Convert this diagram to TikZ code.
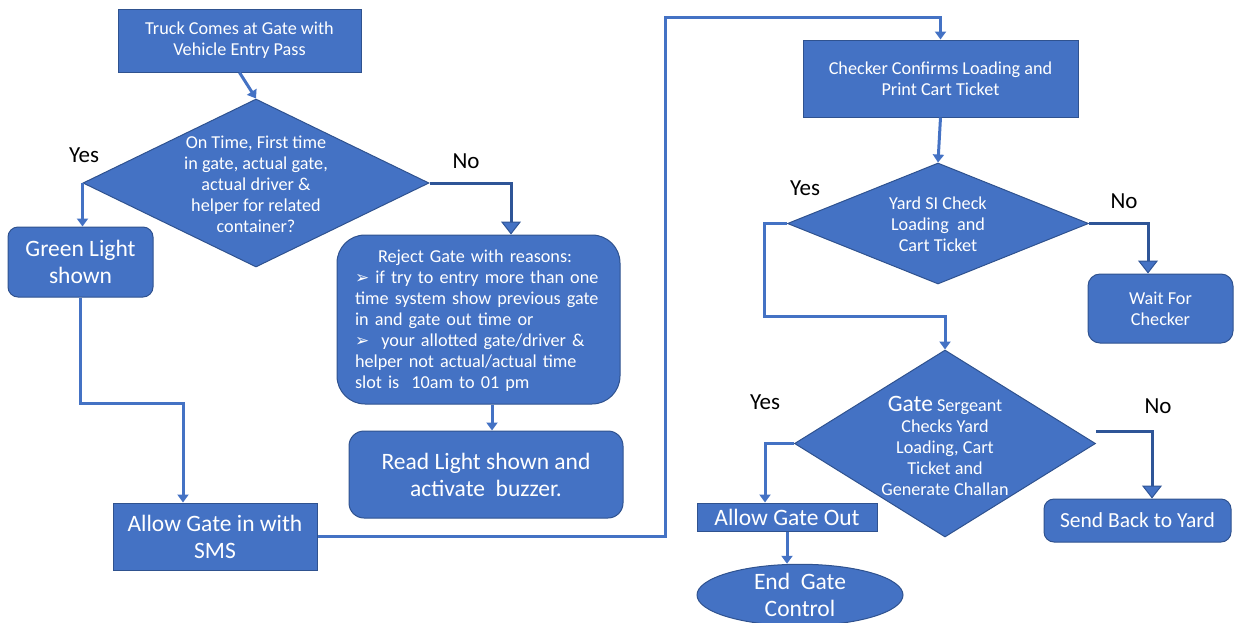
\documentclass[tikz,border=0pt]{standalone}
\usepackage{fontspec}
\setmainfont{Carlito}
\newfontfamily\dejavu{DejaVu Sans}
\usetikzlibrary{shapes.geometric,arrows.meta,calc}
\definecolor{fillblue}{HTML}{4472C4}
\definecolor{edgeblue}{HTML}{2F528F}
\definecolor{darkline}{HTML}{2F5597}
\newcommand{\smallfs}{\fontsize{18.2}{21}\selectfont}
\newcommand{\bigfs}{\fontsize{23.5}{27}\selectfont}
\newcommand{\blt}{{\dejavu\fontsize{17}{17}\selectfont\char"27A2}}
\begin{document}
\begin{tikzpicture}[x=1pt,y=-1pt,
  shp/.style={draw=edgeblue, fill=fillblue, line width=1pt, text=white, align=center, inner sep=0pt},
  rbox/.style={shp, rectangle},
  rrbox/.style={shp, rectangle, rounded corners=#1},
  dia/.style={shp, diamond},
  txt/.style={text=white, align=center, inner sep=0pt},
  lbl/.style={text=black, inner sep=0pt, font=\fontsize{23}{26}\selectfont},
  conn/.style={draw=fillblue, line width=3pt, -{Triangle[width=11pt,length=8pt]}},
  noconn/.style={draw=darkline, line width=3pt, -{Triangle[width=20pt,length=13pt,fill=fillblue,line width=1pt]}},
  plain/.style={draw=fillblue, line width=3pt}
]
\useasboundingbox (0,0) rectangle (1245,622);

% left side
\node[rbox, minimum width=243pt, minimum height=63pt, font=\smallfs] (truck) at (239.5,40.5) {Truck Comes at Gate with\\Vehicle Entry Pass};
\node[dia, minimum width=346pt, minimum height=168pt] (d1) at (256,183) {};
\node[txt, font=\smallfs] (t1) at (256,184) {On Time, First time\\in gate, actual gate,\\actual driver \&\\helper for related\\container?};
\node[rrbox=10pt, minimum width=145pt, minimum height=70pt, font=\bigfs] (gl) at (80.5,262) {Green Light\\shown};
\node[rrbox=28pt, minimum width=283pt, minimum height=169pt] (rej) at (478.5,319.5) {};
\node[txt, font=\smallfs, align=left, text width=250pt] (rt) at (480,320.5) {\makebox[240pt][c]{Reject Gate with reasons:}\\
\blt\ if try to entry more than one\\
time system show previous gate\\
in and gate out time or\\
\blt\ \ your allotted gate/driver \&\\
helper not actual/actual time\\
slot is\ \ 10am to 01 pm};
\node[rrbox=15pt, minimum width=274pt, minimum height=87pt, font=\bigfs] (read) at (486,474.5) {Read Light shown and\\activate\ \ buzzer.};
\node[rbox, minimum width=204pt, minimum height=67pt, font=\bigfs] (ain) at (215,536.5) {Allow Gate in with\\SMS};

% right side
\node[rbox, minimum width=275pt, minimum height=77pt, font=\smallfs] (chk) at (940.5,78.5) {Checker Confirms Loading and\\Print Cart Ticket};
\node[dia, minimum width=301pt, minimum height=121pt] (d2) at (938,223.5) {};
\node[txt, font=\smallfs] (t2) at (938,224) {Yard SI Check\\Loading\ \ and\\Cart Ticket};
\node[rrbox=12pt, minimum width=145pt, minimum height=69pt, font=\smallfs] (wait) at (1160.5,308.5) {Wait For\\Checker};
\node[dia, minimum width=301pt, minimum height=187pt] (d3) at (945,443.5) {};
\node[txt, font=\smallfs] (t3) at (945,446) {{\fontsize{23.5}{21}\selectfont Gate} Sergeant\\Checks Yard\\Loading, Cart\\Ticket and\\Generate Challan};
\node[rbox, minimum width=180pt, minimum height=28pt, font=\bigfs] (aout) at (787,517) {Allow Gate Out};
\node[shp, ellipse, minimum width=206pt, minimum height=54pt, font=\bigfs] (endn) at (800,595) {End\ \ Gate\\Control};
\node[rrbox=10pt, minimum width=187pt, minimum height=43pt, font=\fontsize{21.5}{25}\selectfont] (sb) at (1137.5,520.5) {Send Back to Yard};

% labels
\node[lbl] (y1) at (84,155) {Yes};
\node[lbl] (n1) at (466,161) {No};
\node[lbl] (y2) at (805,188) {Yes};
\node[lbl] (n2) at (1124,201) {No};
\node[lbl] (y3) at (765,402) {Yes};
\node[lbl] (n3) at (1158,406) {No};

% helper coordinates
\coordinate (x511) at (511,0);
\coordinate (j1) at (183,403);
\coordinate (x492) at (492,0);
\coordinate (j2) at (665,17);
\coordinate (j3) at (764,316);
\coordinate (x1148) at (1148,0);
\coordinate (x765) at (765,0);
\coordinate (x1152) at (1152,0);

% connectors
\draw[conn] (truck.south) -- (d1.north);
\draw[conn] (d1.west) -- (d1.west |- gl.north);
\draw[noconn] (d1.east) -| (rej.north -| x511);
\draw[conn] (gl.south) |- (j1) -- (j1 |- ain.north);
\draw[conn] (rej.south -| x492) -- (read.north -| x492);
\draw[conn] (ain.east) -| (j2) -| (chk.north);
\draw[conn] (chk.south) -- (d2.north);
\draw[conn] (d2.west) -| (j3) -| (d3.north);
\draw[noconn] (d2.east) -| (wait.north -| x1148);
\draw[conn] (d3.west) -| (aout.north -| x765);
\draw[conn] (aout.south) -- (aout.south |- endn.north);
\draw[noconn] ($(d3.east)+(0,-12)$) -| (sb.north -| x1152);
\end{tikzpicture}
\end{document}
